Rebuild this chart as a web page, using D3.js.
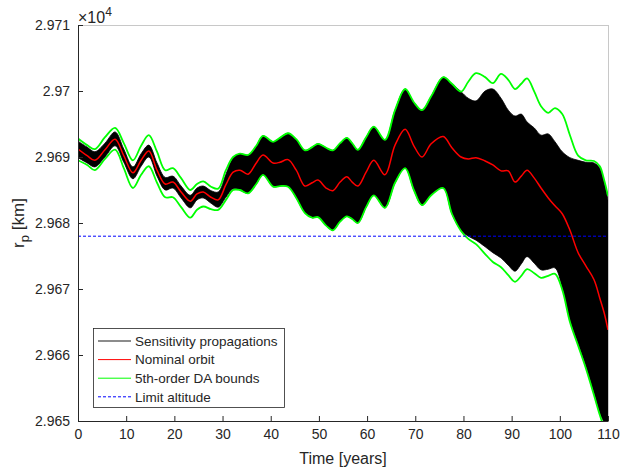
<!DOCTYPE html>
<html><head><meta charset="utf-8">
<script src="https://cdn.jsdelivr.net/npm/d3@7"></script>
<style>
body{margin:0;background:#fff}
svg{display:block}
text{font-family:"Liberation Sans",Arial,Helvetica,sans-serif;fill:#262626}
</style>
</head><body>
<svg id="c" width="621" height="470"></svg>
<script>
// ---- data (time in years, perigee radius in km) ----
const years = [0,1.9,3.5,5.6,7.7,9.5,11.4,13.1,14.7,16.4,
  18.1,19.7,21.4,23.3,24.7,26.0,27.6,29.1,30.7,32.2,
  33.6,35.3,37.0,38.4,40.5,41.9,43.6,45.3,47.1,48.6,
  49.8,51.5,52.9,54.4,55.8,56.9,58.1,59.8,61.4,63.7,
  65.8,67.9,69.7,71.4,73.3,75.8,77.6,79.5,81.0,82.6,
  84.5,86.1,87.8,89.3,90.7,92.0,93.2,94.7,96.1,97.6,
  99.0,100.5,102.1,103.8,105.4,107.1,108.3,109.2,110.0];

const nominal = [29691.2,29690.2,29689.5,29691.1,29692.7,29690.2,29687.6,29689.5,29690.9,29688.0,
  29685.9,29686.2,29684.7,29683.3,29684.4,29684.7,29683.9,29683.5,29685.8,29687.7,
  29688.0,29687.4,29689.1,29690.3,29689.1,29689.2,29689.6,29688.0,29685.6,29686.1,
  29686.5,29685.3,29684.9,29686.2,29687.0,29686.2,29685.6,29687.7,29689.5,29687.3,
  29691.8,29694.2,29691.7,29690.0,29692.0,29693.1,29691.4,29690.0,29689.7,29689.9,
  29689.4,29688.8,29687.9,29687.9,29686.2,29687.1,29688.0,29686.8,29685.3,29683.8,
  29682.6,29681.4,29678.9,29675.5,29673.5,29671.4,29668.6,29666.4,29663.8];

const daUpper = [29692.8,29691.8,29691.2,29693.0,29694.4,29692.1,29689.5,29691.7,29693.3,29690.8,
  29688.0,29688.3,29686.8,29685.0,29685.9,29686.3,29685.5,29685.2,29688.0,29690.0,
  29690.5,29690.3,29691.7,29693.2,29692.3,29692.9,29693.6,29692.7,29691.0,29691.5,
  29692.0,29691.4,29691.0,29692.1,29692.9,29692.1,29691.1,29693.0,29694.6,29692.6,
  29697.1,29700.3,29698.3,29697.1,29699.2,29702.1,29701.1,29699.9,29701.4,29702.7,
  29702.1,29701.2,29702.6,29701.7,29700.3,29701.1,29701.9,29699.9,29697.7,29696.7,
  29697.4,29696.5,29693.3,29690.2,29689.5,29689.4,29688.6,29686.5,29684.1];

const daLower = [29689.5,29688.8,29688.0,29689.7,29691.1,29688.3,29685.3,29687.3,29688.6,29686.1,
  29683.9,29683.9,29682.4,29680.8,29682.0,29682.5,29682.1,29682.0,29683.5,29685.0,
  29685.0,29684.5,29685.9,29687.3,29685.5,29685.6,29685.5,29683.8,29681.5,29680.8,
  29680.9,29679.6,29678.9,29680.2,29681.0,29680.6,29680.0,29682.4,29684.2,29682.3,
  29686.1,29688.3,29685.0,29682.7,29684.2,29685.3,29681.4,29678.8,29677.6,29676.8,
  29675.3,29674.1,29673.3,29672.1,29671.1,29672.0,29673.0,29672.4,29671.7,29672.0,
  29672.3,29669.9,29665.0,29661.4,29658.0,29653.9,29650.9,29648.9,29647.1];

// envelope of the sensitivity propagations
const sensUpper = [29692.4,29691.5,29690.8,29692.1,29693.8,29691.2,29688.5,29690.5,29691.8,29689.1,
  29686.9,29687.1,29685.6,29684.2,29685.3,29685.6,29684.9,29684.7,29687.4,29689.9,
  29690.5,29690.3,29691.7,29693.2,29692.3,29692.9,29693.6,29692.7,29691.0,29691.5,
  29692.0,29691.4,29691.0,29692.1,29692.9,29692.1,29691.1,29693.0,29694.6,29692.6,
  29697.1,29700.3,29698.3,29697.1,29699.2,29702.1,29701.1,29699.9,29698.9,29698.5,
  29700.0,29700.3,29698.9,29697.1,29696.2,29696.5,29695.3,29694.4,29693.3,29693.5,
  29692.3,29690.8,29689.9,29689.5,29689.2,29689.1,29688.3,29686.2,29683.5];

const sensLower = [29689.9,29689.1,29688.5,29690.0,29691.7,29689.2,29686.7,29688.6,29690.0,29687.1,
  29685.0,29685.3,29683.8,29682.3,29683.5,29683.8,29683.0,29682.4,29683.9,29685.2,
  29685.0,29684.5,29685.9,29687.3,29685.5,29685.6,29685.5,29683.8,29681.5,29680.8,
  29680.9,29679.6,29678.9,29680.2,29681.0,29680.6,29680.0,29682.4,29684.2,29682.3,
  29686.1,29688.3,29685.0,29682.7,29684.2,29685.3,29681.4,29678.9,29678.0,29677.4,
  29676.4,29675.5,29674.7,29673.6,29672.7,29673.8,29674.9,29673.9,29672.9,29673.0,
  29673.2,29670.2,29665.3,29661.7,29658.3,29654.2,29651.2,29649.7,29647.4];

const limitAltitude = 29678.0;

const xTicks = [0,10,20,30,40,50,60,70,80,90,100,110];
const yTicks = [29650,29660,29670,29680,29690,29700,29710];
const yTickLabels = ["2.965","2.966","2.967","2.968","2.969","2.97","2.971"];
const legendLabels = ["Sensitivity propagations","Nominal orbit","5th-order DA bounds","Limit altitude"];

// ---- drawing ----
const svg = d3.select("#c");
const L = 78, R = 608, T = 25, B = 421;
const x = d3.scaleLinear().domain([0,110]).range([L,R]);
const y = d3.scaleLinear().domain([29650,29710]).range([B,T]);
const ink = "#262626";

svg.append("defs").append("clipPath").attr("id","plot")
  .append("rect").attr("x",L).attr("y",T).attr("width",R-L).attr("height",B-T);

const g = svg.append("g").attr("clip-path","url(#plot)");
const idx = d3.range(years.length);
const curve = d3.curveCatmullRom.alpha(0.5);

g.append("path")
  .attr("d", d3.area().curve(curve).x(i=>x(years[i])).y0(i=>y(sensLower[i])).y1(i=>y(sensUpper[i]))(idx))
  .attr("fill","#000").attr("stroke","#000").attr("stroke-width",0.8);

const line = arr => d3.line().curve(curve).x(i=>x(years[i])).y(i=>y(arr[i]))(idx);
[daUpper, daLower].forEach(a=>{
  g.append("path").attr("d",line(a)).attr("fill","none").attr("stroke","#00ff00").attr("stroke-width",1.8);
});
g.append("path").attr("d",line(nominal)).attr("fill","none").attr("stroke","#ff0000").attr("stroke-width",1.5);
g.append("line").attr("x1",x(0)).attr("x2",x(110)).attr("y1",y(limitAltitude)).attr("y2",y(limitAltitude))
  .attr("stroke","#0000ff").attr("stroke-width",1).attr("stroke-dasharray","3,2");

// box (top/right)
svg.append("line").attr("x1",L).attr("x2",R+0.5).attr("y1",T+0.5).attr("y2",T+0.5).attr("stroke","#c8c8c8");
svg.append("line").attr("x1",R+0.5).attr("x2",R+0.5).attr("y1",T).attr("y2",B).attr("stroke","#c8c8c8");

// axes
const ax = svg.append("g").attr("transform",`translate(0,${B})`)
  .call(d3.axisBottom(x).tickValues(xTicks).tickFormat(d3.format("d")).tickSizeInner(-5).tickSizeOuter(0).tickPadding(8));
const ay = svg.append("g").attr("transform",`translate(${L},0)`)
  .call(d3.axisLeft(y).tickValues(yTicks).tickFormat((d,i)=>yTickLabels[i]).tickSizeInner(-5).tickSizeOuter(0).tickPadding(8));
[ax,ay].forEach(a=>{
  a.select(".domain").attr("stroke",ink);
  a.selectAll(".tick line").attr("stroke",ink);
  a.selectAll(".tick text").attr("fill",ink).style("font-size","14px").style("font-family","'Liberation Sans',Arial,sans-serif");
});

// exponent
const ex = svg.append("text").attr("x",L).attr("y",T-2).style("font-size","16px");
ex.append("tspan").text("\u00d710");
ex.append("tspan").attr("dy",-7).style("font-size","12px").text("4");

// axis labels
svg.append("text").attr("x",(L+R)/2).attr("y",464).attr("text-anchor","middle").style("font-size","16px").text("Time [years]");
const yl = svg.append("text").attr("transform",`translate(24,${(T+B)/2}) rotate(-90)`).attr("text-anchor","middle").style("font-size","17px");
yl.append("tspan").text("r");
yl.append("tspan").attr("dy",5).style("font-size","13px").text("p");
yl.append("tspan").attr("dy",-5).text(" [km]");

// legend
const lg = svg.append("g");
lg.append("rect").attr("x",93.5).attr("y",328.5).attr("width",191).attr("height",79)
  .attr("fill","#fff").attr("stroke",ink).attr("stroke-width",0.8);
const styles = [
  {c:"#8c8c8c",w:2,d:null},
  {c:"#ff0000",w:1,d:null},
  {c:"#00ff00",w:1,d:null},
  {c:"#0000ff",w:1,d:"3,2"}
];
legendLabels.forEach((t,i)=>{
  const cy = 341 + i*18.6;
  lg.append("line").attr("x1",98).attr("x2",131).attr("y1",cy).attr("y2",cy)
    .attr("stroke",styles[i].c).attr("stroke-width",styles[i].w).attr("stroke-dasharray",styles[i].d);
  lg.append("text").attr("x",135).attr("y",cy).attr("dy","0.35em").style("font-size","13.5px").text(t);
});
</script>
</body></html>
